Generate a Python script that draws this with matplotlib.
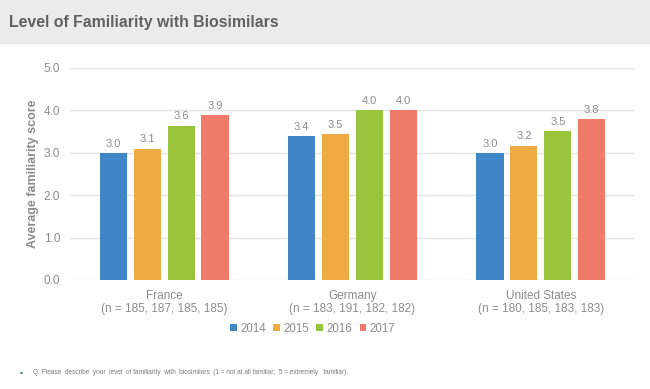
import matplotlib.pyplot as plt
import numpy as np

# data
countries = ['France', 'Germany', 'United States']
sample_sizes = ['(n = 185, 187, 185, 185)', '(n = 183, 191, 182, 182)',
                '(n = 180, 185, 183, 183)']
years = ['2014', '2015', '2016', '2017']
scores_2014 = [3.0, 3.4, 3.0]
scores_2015 = [3.1, 3.45, 3.17]
scores_2016 = [3.64, 4.0, 3.51]
scores_2017 = [3.89, 4.0, 3.8]

colors = ['#3f86c6', '#efab43', '#98c53c', '#f07b6b']
grey = '#8c8c8c'

plt.rcParams['font.family'] = ['Liberation Sans', 'DejaVu Sans']

fig = plt.figure(figsize=(6.5, 3.89), dpi=100)

# grey title band
fig.patches.append(plt.Rectangle((0, 1 - 43 / 389), 1, 43 / 389,
                                 transform=fig.transFigure,
                                 color='#ebebeb', zorder=0))
fig.text(9 / 650, 1 - 22 / 389, 'Level of Familiarity with Biosimilars',
         fontsize=11.4, fontweight='bold', color='#606060', va='center')

ax = fig.add_axes([70 / 650, 1 - 280 / 389, 565 / 650, 212 / 389])

x = np.arange(len(countries))
width = 0.144
step = 0.18
series = [scores_2014, scores_2015, scores_2016, scores_2017]
for i, (vals, year, c) in enumerate(zip(series, years, colors)):
    bars = ax.bar(x + (i - 1.5) * step, vals, width, color=c, label=year,
                  zorder=3)
    ax.bar_label(bars, fmt='%.1f', padding=3, fontsize=8, color=grey)

ax.set_xlim(-0.5, 2.5)
ax.set_ylim(0, 5)
ax.set_yticks(np.arange(0, 5.01, 1.0))
ax.set_yticklabels(['%.1f' % v for v in np.arange(0, 5.01, 1.0)])
ax.set_xticks(x)
ax.set_xticklabels([c + '\n' + n for c, n in zip(countries, sample_sizes)],
                   color=grey, fontsize=8.5, linespacing=1.15)
ax.tick_params(axis='both', length=0, colors=grey, labelsize=8.5)
ax.tick_params(axis='x', pad=7)
ax.tick_params(axis='y', pad=7)
ax.grid(axis='y', color='#e4e4e4', linewidth=1, zorder=0)
for s in ax.spines.values():
    s.set_visible(False)
ax.set_ylabel('Average familiarity score', color=grey, fontsize=9,
              fontweight='bold')
ax.yaxis.set_label_coords(-31 / 565, 0.5)

ax.legend(loc='center', bbox_to_anchor=(0.43, -0.23), ncol=4,
          frameon=False, fontsize=8.3, labelcolor=grey, handlelength=0.6,
          handleheight=0.6, handletextpad=0.3, columnspacing=0.6)

fig.text(20 / 650, 1 - 373 / 389, '\u25aa', color='#2e7d32', fontsize=6,
         va='center')
fig.text(33 / 650, 1 - 373 / 389,
         'Q. Please  describe  your  level  of familiarity  with  biosimilars'
         '  (1 = not at all familiar;  5 = extremely   familiar).',
         color='#7a7a7a', fontsize=4.7, va='center')

fig.savefig('out.png', dpi=100)
